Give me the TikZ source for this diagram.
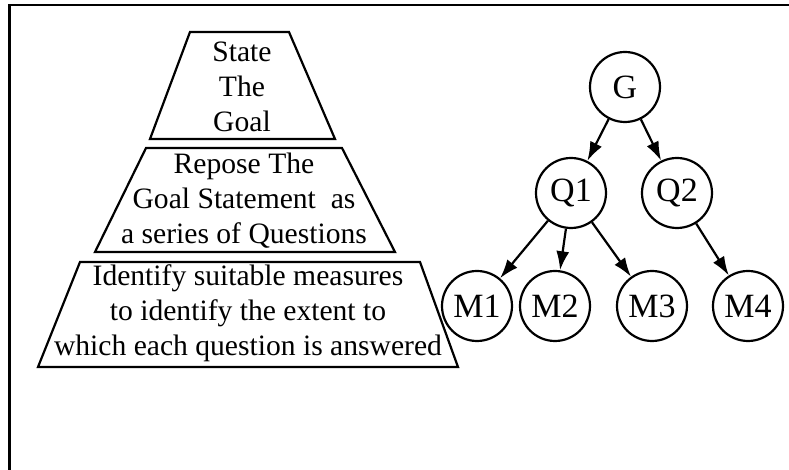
\documentclass[tikz,border=0pt]{standalone}
\usepackage{fontspec}
\setmainfont{Liberation Serif}
\usetikzlibrary{arrows.meta}
\begin{document}
\begin{tikzpicture}[x=0.5pt,y=-0.5pt,
  every node/.style={font=\fontsize{14.8}{17.5}\selectfont},
  level/.style={align=center, inner sep=0pt},
  gqm/.style={draw, circle, line width=1.1pt, minimum size=35pt, inner sep=0pt,
    font=\fontsize{17}{20}\selectfont},
  link/.style={line width=1.1pt, -{Latex[length=9.5pt,width=6.5pt]}}]
\useasboundingbox (0,0) rectangle (789,470);
% Frame
\draw[line width=1.3pt] (9.5,470) -- (9.5,5) -- (789,5);

% Pyramid, top to bottom
\draw[line width=1.1pt] (190,32) -- (289,32) -- (335,139) -- (150,139) -- cycle;
\node[level] (state) at (242,87) {State\\The\\Goal};

\draw[line width=1.1pt] (146,148) -- (342,148) -- (395,252) -- (95,252) -- cycle;
\node[level] (repose) at (244,201) {Repose The\\Goal Statement~~as\\a series of Questions};

\draw[line width=1.1pt] (80,262) -- (420,262) -- (458,367) -- (38,367) -- cycle;
\node[level] (identify) at (248,313) {Identify suitable measures\\to identify the extent to\\which each question is answered};

% Goal
\node[gqm] (G) at (625,87) {G};

% Questions
\node[gqm] (Q1) at (571,193) {Q1};
\node[gqm] (Q2) at (677,193) {Q2};

% Metrics left to right
\node[gqm] (M1) at (477,306) {M1};
\node[gqm] (M2) at (555,306) {M2};
\node[gqm] (M3) at (652,306) {M3};
\node[gqm] (M4) at (748,306) {M4};

% Arrows
\draw[link] (G) -- (Q1);
\draw[link] (G) -- (Q2);
\draw[link] (Q1) -- (M1);
\draw[link] (Q1) -- (M2);
\draw[link] (Q1) -- (M3);
\draw[link] (Q2) -- (M4);
\end{tikzpicture}
\end{document}
